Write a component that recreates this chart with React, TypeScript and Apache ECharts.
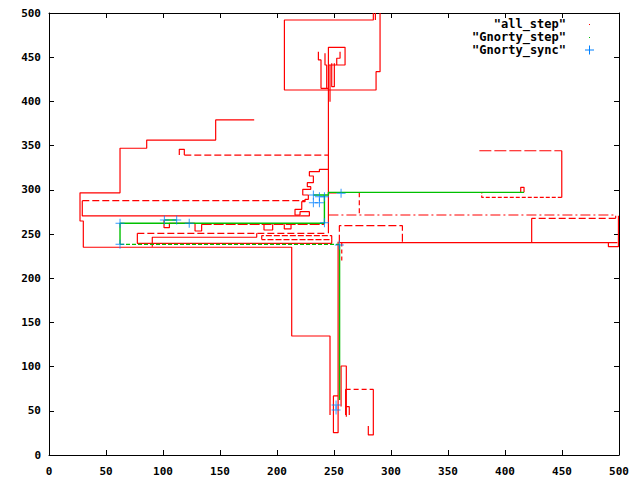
import React, { useEffect, useRef } from "react";
import * as echarts from "echarts";

// ---- all_step trajectory pieces, [x, y] in data units ----
const stepLeftLoop = [[180,379],[146.2,379],[146.2,356.3],[85.7,356.3],[85.7,347],[62.3,347],[62.3,296.6],[27.2,296.6],[27.2,264.7],[30.1,264.7],[30.1,235],[212.9,235],[212.9,134.6],[246.5,134.6],[246.5,45.3]];
const stepBand270 = [[220.2,270.4],[29.2,270.4],[29.2,287.7]];
const stepBand288 = [[29.2,287.7],[224.6,287.7]];
const stepStair = [[245.1,323.1],[237.2,323.1],[237.2,320.5],[228.4,320.5],[228.4,315.6],[231.9,315.6],[231.9,308.1],[226.6,308.1],[226.6,303.5],[229.6,303.5],[229.6,300.5],[222.6,300.5],[222.6,294.1],[227.5,294.1],[227.5,289.2],[224.6,289.2],[224.6,286.6],[221.7,286.6],[221.7,277.9],[215.8,277.9],[215.8,271.5],[220.2,271.5]];
const stepStairBox = [[220.2,271.5],[220.2,275.3],[228.4,275.3],[228.4,270.4],[220.2,270.4]];
const stepSpine = [[245.1,250.8],[245.1,461.2],[259.7,461.2],[259.7,441.2],[245.1,441.2]];
const stepTopBox = [[284.5,500],[284.5,492.1],[206.5,492.1],[206.5,412.9],[286.9,412.9],[286.9,433.6],[290.4,433.6],[290.4,500]];
const stepTopEdge = [[286.3,492.1],[286.3,500]];
const stepTree1 = [[236.3,456.3],[236.3,446.9],[238.6,446.9],[238.6,414.8],[245.1,414.8]];
const stepTree2 = [[242.1,454.4],[242.1,441.2],[243.6,441.2],[243.6,414.8]];
const stepTree3 = [[246.5,441.2],[246.5,399.7]];
const stepTree4 = [[248,443.1],[248,416.7],[250.3,416.7],[250.3,443.1]];
const stepTree5 = [[255.3,456.3],[255.3,448.8],[252.4,448.8],[252.4,441.2]];
const stepHook340 = [[114.3,339.3],[114.3,345.8],[118.7,345.8],[118.7,339.3]];
const stepDash340 = [[118.7,339.3],[245.1,339.3]];
const stepStub297 = [[245.1,296.6],[252.3,296.6]];
const stepFarTop = [[377.5,344.2],[449.8,344.2]];
const stepFarRight = [[449.8,344.2],[449.8,291.4]];
const stepFarBottom = [[449.8,291.4],[379.6,291.4],[379.6,297.1]];
const stepFarNotch = [[413.8,297.1],[413.8,302.8],[416.7,302.8],[416.7,297.1]];
const stepDrop272 = [[272.2,297.1],[272.2,271.5]];
const stepLine271 = [[245.1,271.5],[497.1,271.5],[497.1,267.7]];
const stepLine268 = [[497.1,267.7],[423.4,267.7]];
const stepDrop423 = [[423.4,267.7],[423.4,240.2]];
const stepBox259 = [[254.7,240.2],[254.7,259.4],[310,259.4],[310,240.2]];
const stepLine240 = [[254.7,240.2],[498.6,240.2]];
const stepRightEdge = [[499.5,270.7],[499.5,235.7],[490.7,235.7],[490.7,240.2]];
const stepColumn = [[253.6,241.3],[253.6,25.3],[249.5,25.3],[249.5,66.8],[253.6,66.8]];
const stepColumnBox = [[256.2,55],[256.2,100.7],[260.8,100.7],[260.8,43.4]];
const stepColumnHook = [[260.2,45.3],[260.2,74.3]];
const stepColumnHook2 = [[260.2,54.7],[263.4,54.7],[263.4,45.3]];
const stepDash74 = [[260.2,74.3],[284.5,74.3]];
const stepFoot = [[284.5,74.3],[284.5,22.7],[280.1,22.7],[280.1,32.8]];
const stepDash257 = [[256.8,240.4],[256.8,216.8]];
const stepNotches262 = [[100.9,265.8],[100.9,257.2],[105.6,257.2],[105.6,262.1],[128.1,262.1],[128.1,253.4],[133.9,253.4],[133.9,260.9]];
const stepLine261 = [[133.9,260.9],[241.2,260.9]];
const stepSquare1 = [[188.6,261],[188.6,254.5],[196.2,254.5],[196.2,261]];
const stepSquare2 = [[206.4,261],[206.4,255.7],[212.3,255.7],[212.3,261]];
const stepDash251 = [[77.5,250.8],[243.6,250.8]];
const stepLine240Left = [[77.5,250.8],[77.5,239.5],[248,239.5],[248,243.7]];
const stepBox246 = [[90.6,235.5],[90.6,246.3],[182.2,246.3],[182.2,250.8]];
const stepBox248 = [[186.6,243.7],[186.6,248.1],[248,248.1],[248,243.7],[186.6,243.7]];

// ---- Gnorty_step pieces ----
const gnortyLow = [[62.3,238.3],[254.9,238.3]];
const gnortyDrop = [[254.9,238.3],[254.9,62.3]];
const gnortyMid = [[62.3,238.3],[62.3,262.1],[241.6,262.1],[241.6,294.1],[231.9,294.1]];
const gnortyBit = [[101.2,265.8],[112,265.8]];
const gnortyUpper = [[241.6,294.1],[245.1,294.1],[245.1,297.1],[416.7,297.1]];

// ---- Gnorty_sync points ----
const gnortySync = [[62.3,262.1],[62.3,238.3],[101.2,265.8],[112,265.8],[123,262.1],[231.9,294.1],[237.2,292.2],[241.6,292.2],[231.9,285.4],[237.2,285.4],[256.2,296],[241.6,262.8],[254.7,237.6],[251.8,56.6],[251.8,51]];

const legendLabels = ['"all_step"', '"Gnorty_step"', '"Gnorty_sync"'];

const RED = "#ff0000";
const GREEN = "#00c000";
const BLUE = "#0080ff";

const SOLID = "solid";
const DASH = [7, 3];
const LONGDASH = [12, 3];
const FINE = [4, 2];
const DASHDOT = [10, 3, 2, 3];

const redPieces: [number[][], any][] = [
  [stepLeftLoop, SOLID], [stepBand270, SOLID], [stepBand288, DASH], [stepStair, SOLID],
  [stepStairBox, SOLID], [stepSpine, SOLID], [stepTopBox, SOLID], [stepTopEdge, SOLID],
  [stepTree1, SOLID], [stepTree2, SOLID], [stepTree3, SOLID], [stepTree4, SOLID], [stepTree5, SOLID],
  [stepHook340, SOLID], [stepDash340, DASH], [stepStub297, SOLID], [stepFarTop, LONGDASH],
  [stepFarRight, SOLID], [stepFarBottom, FINE], [stepFarNotch, SOLID], [stepDrop272, [5, 3]],
  [stepLine271, DASHDOT], [stepLine268, DASH], [stepDrop423, SOLID], [stepBox259, [8, 3]],
  [stepLine240, SOLID], [stepRightEdge, SOLID], [stepColumn, SOLID], [stepColumnBox, SOLID],
  [stepColumnHook, SOLID], [stepColumnHook2, SOLID], [stepDash74, [5, 3]], [stepFoot, SOLID],
  [stepDash257, [4, 3]], [stepNotches262, SOLID], [stepLine261, [10, 2]], [stepSquare1, SOLID],
  [stepSquare2, SOLID], [stepDash251, DASH], [stepLine240Left, SOLID], [stepBox246, SOLID],
  [stepBox248, [6, 2]],
];

const greenPieces: [number[][], any][] = [
  [gnortyLow, FINE], [gnortyDrop, SOLID], [gnortyMid, SOLID], [gnortyBit, SOLID], [gnortyUpper, SOLID],
];

const FONT = '"DejaVu Sans Mono", monospace';

export default function App() {
  const ref = useRef<HTMLDivElement>(null);
  useEffect(() => {
    if (!ref.current) return;
    const chart = echarts.init(ref.current, undefined, { renderer: "svg" });
    const lineSeries = (pieces: [number[][], any][], color: string, width: number) =>
      pieces.map(([data, type]) => ({
        type: "line",
        data,
        showSymbol: false,
        symbol: "none",
        silent: true,
        lineStyle: { color, width, type },
        z: color === GREEN ? 3 : 2,
      }));
    const axisCommon = {
      type: "value",
      min: 0,
      max: 500,
      interval: 50,
      splitLine: { show: false },
      axisLine: { show: true, onZero: false, lineStyle: { color: "#000", width: 1 } },
      axisTick: { show: true, inside: true, length: 5, lineStyle: { color: "#000" } },
    };
    const labelStyle = { fontFamily: FONT, fontWeight: "bold", fontSize: 11, color: "#000" };
    const legendY = [24, 37, 50];
    chart.setOption({
      animation: false,
      backgroundColor: "#fff",
      grid: { left: 49, right: 21, top: 13, bottom: 25 },
      xAxis: [
        { ...axisCommon, position: "bottom", axisLabel: { ...labelStyle, margin: 11 } },
        { ...axisCommon, position: "top", axisLabel: { show: false } },
      ],
      yAxis: [
        { ...axisCommon, position: "left", axisLabel: { ...labelStyle, margin: 8 } },
        { ...axisCommon, position: "right", axisLabel: { show: false } },
      ],
      series: [
        ...lineSeries(redPieces, RED, 1.2),
        ...lineSeries(greenPieces, GREEN, 1.4),
        {
          type: "scatter",
          data: gnortySync,
          symbol: "path://M4,0h1v9h-1zM0,4h9v1h-9z",
          symbolSize: 9,
          itemStyle: { color: BLUE },
          silent: true,
          z: 4,
        },
      ],
      graphic: [
        ...legendLabels.map((t, i) => ({
          type: "text",
          x: 566,
          y: legendY[i],
          style: {
            text: t,
            font: `bold 12px ${FONT}`,
            fill: "#000",
            textAlign: "right",
            textVerticalAlign: "middle",
          },
        })),
        { type: "rect", shape: { x: 589, y: legendY[0], width: 1, height: 1 }, style: { fill: RED } },
        { type: "rect", shape: { x: 589, y: legendY[1], width: 1, height: 1 }, style: { fill: GREEN } },
        { type: "line", shape: { x1: 585, y1: legendY[2], x2: 594, y2: legendY[2] }, style: { stroke: BLUE, lineWidth: 1 } },
        { type: "line", shape: { x1: 589.5, y1: legendY[2] - 4.5, x2: 589.5, y2: legendY[2] + 4.5 }, style: { stroke: BLUE, lineWidth: 1 } },
      ],
    });
    return () => chart.dispose();
  }, []);
  return <div ref={ref} style={{ position: "absolute", left: 0, top: 0, width: 640, height: 480 }} />;
}
